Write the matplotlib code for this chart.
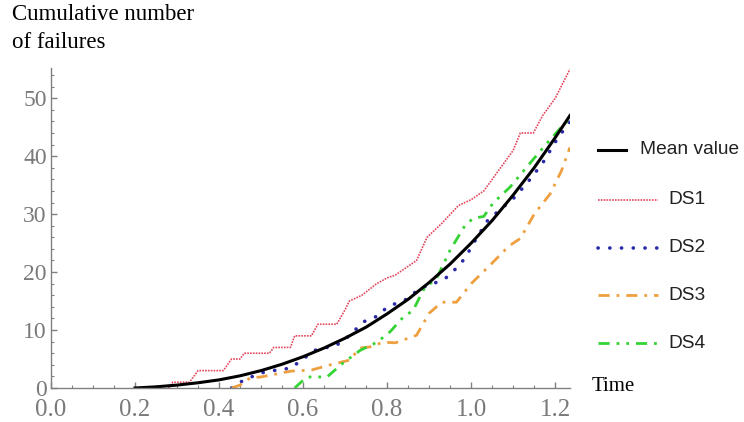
import matplotlib
matplotlib.use("Agg")
import matplotlib.pyplot as plt
import matplotlib.transforms as mtransforms
from matplotlib.lines import Line2D
from matplotlib.ticker import MultipleLocator

# values
mean_t = [0.20, 0.25, 0.30, 0.35, 0.40, 0.45, 0.50, 0.55, 0.60, 0.65, 0.70,
          0.75, 0.80, 0.85, 0.90, 0.95, 1.00, 1.05, 1.10, 1.15, 1.20, 1.235]
mean_y = [0.0, 0.2, 0.5, 0.9, 1.4, 2.1, 3.0, 4.1, 5.4, 6.9, 8.6,
          10.5, 12.8, 15.3, 18.2, 21.4, 25.0, 28.9, 33.3, 38.0, 43.2, 47.0]

ds1_t = [0.28, 0.29, 0.33, 0.35, 0.41, 0.43, 0.45, 0.46, 0.52, 0.53, 0.57, 0.58,
         0.62, 0.635, 0.68, 0.70, 0.71, 0.74, 0.775, 0.80, 0.82, 0.87, 0.895,
         0.93, 0.97, 1.00, 1.03, 1.07, 1.10, 1.117, 1.148, 1.17, 1.20, 1.235]
ds1_y = [0, 1, 1, 3, 3, 5, 5, 6, 6, 7, 7, 9,
         9, 11, 11, 13.5, 15, 16, 18, 19, 19.5, 22, 26,
         28.4, 31.5, 32.5, 34, 38, 41, 44, 44, 47, 50, 55]

ds2_t = [0.43, 0.45, 0.48, 0.50, 0.545, 0.57, 0.60, 0.628, 0.68, 0.71, 0.743,
         0.78, 0.80, 0.843, 0.879, 0.92, 0.94, 0.974, 0.99, 1.014, 1.04, 1.076,
         1.105, 1.14, 1.17, 1.205, 1.235]
ds2_y = [0, 1, 2, 2.6, 3.2, 3.4, 5, 6.5, 7.4, 9, 11.4,
         12.5, 14, 15.2, 17.2, 18.3, 19, 21.3, 23, 26, 29, 31.2,
         33, 36, 38.8, 43, 46]

ds3_t = [0.43, 0.45, 0.475, 0.50, 0.57, 0.62, 0.665, 0.71, 0.736, 0.76, 0.79,
         0.82, 0.87, 0.90, 0.93, 0.965, 1.00, 1.045, 1.09, 1.117, 1.15, 1.188,
         1.215, 1.235]
ds3_y = [0, 0.5, 1.8, 1.9, 2.9, 3.1, 4, 4.8, 6.9, 7.1, 7.9,
         7.8, 9.1, 12.9, 14.8, 14.8, 18, 21.2, 24.5, 25.8, 30, 33.5,
         37.5, 41.5]

ds4_t = [0.58, 0.595, 0.61, 0.657, 0.695, 0.736, 0.776, 0.807, 0.838, 0.862,
         0.886, 0.919, 0.95, 0.985, 1.005, 1.03, 1.052, 1.093, 1.14, 1.18,
         1.212, 1.235]
ds4_y = [0, 1, 1.9, 1.9, 4.3, 6.5, 7.9, 9.7, 12.2, 13.4,
         16.9, 19.1, 23.8, 28, 29.3, 29.6, 31.9, 34.7, 38.8, 42.2,
         44.8, 46.5]

styles = {
    "Mean value": dict(color="black", lw=2.2, ls="-"),
    "DS1": dict(color="#e2485e", lw=1.2, ls=(0, (1, 0.7))),
    "DS2": dict(color="#2a2aa8", lw=2.6, ls=(0, (0.05, 3.2)), dash_capstyle="round"),
    "DS3": dict(color="#eea040", lw=2.0, ls=(0, (4, 2.5, 1, 2.5))),
    "DS4": dict(color="#33d433", lw=2.0, ls=(0, (4, 2.5, 1, 2.5, 1, 2.5))),
}

fig = plt.figure(figsize=(7.44, 4.22), dpi=100)
ax = fig.add_axes([0.0685, 0.0806, 0.6975, 0.758])

ax.plot(ds1_t, ds1_y, **styles["DS1"])
ax.plot(ds2_t, ds2_y, **styles["DS2"])
ax.plot(ds3_t, ds3_y, **styles["DS3"])
ax.plot(ds4_t, ds4_y, **styles["DS4"])
ax.plot(mean_t, mean_y, **styles["Mean value"])

ax.set_xlim(0, 1.235)
ax.set_ylim(0, 55.2)
for s in ["top", "right"]:
    ax.spines[s].set_visible(False)
for s in ["left", "bottom"]:
    ax.spines[s].set_color("#808080")
    ax.spines[s].set_linewidth(1.0)

ax.xaxis.set_major_locator(MultipleLocator(0.2))
ax.xaxis.set_minor_locator(MultipleLocator(0.05))
ax.yaxis.set_major_locator(MultipleLocator(10))
ax.yaxis.set_minor_locator(MultipleLocator(2))
ax.set_xticks([0, 0.2, 0.4, 0.6, 0.8, 1.0, 1.2])
ax.set_xticklabels(["0.0", "0.2", "0.4", "0.6", "0.8", "1.0", "1.2"])
ax.tick_params(which="both", direction="in", color="#808080", labelcolor="#7a7a7a")
ax.tick_params(which="major", length=4.5, width=1.0)
ax.tick_params(which="minor", length=2.5, width=0.8)
ax.tick_params(axis="x", pad=8)
ax.tick_params(axis="y", pad=3)
for lab in ax.get_xticklabels():
    lab.set_fontfamily("Liberation Serif")
    lab.set_fontsize(18)
for lab in ax.get_yticklabels():
    lab.set_fontfamily("Liberation Serif")
    lab.set_fontsize(17)

# nudge the y "0" up a little so it does not sit on the "0.0"
zero_lab = ax.yaxis.get_major_ticks()[0].label1
zero_lab.set_transform(zero_lab.get_transform()
                       + mtransforms.ScaledTranslation(0, 4 / 72, fig.dpi_scale_trans))

fig.text(0.016, 0.99, "Cumulative number\nof failures", ha="left", va="top",
         fontsize=16.5, family="Liberation Serif", linespacing=1.45)
fig.text(0.795, 0.083, "Time", ha="left", va="center",
         fontsize=15, family="Liberation Serif")

# legend drawn by hand, Mathematica style
leg_rows = [("Mean value", 150, 598, 626, 640),
            ("DS1", 200, 598, 658, 668),
            ("DS2", 248, 598, 658, 668),
            ("DS3", 295, 598, 658, 668),
            ("DS4", 343, 598, 658, 668)]
W, H = 744, 422
for name, yp, x0, x1, xt in leg_rows:
    yf = 1 - yp / H
    fig.add_artist(Line2D([x0 / W, x1 / W], [yf, yf], transform=fig.transFigure,
                          **styles[name]))
    fig.text(xt / W, yf, name, ha="left", va="center", fontsize=13.8,
             family="Liberation Sans", color="#222222")

fig.savefig("out.png", dpi=100)
